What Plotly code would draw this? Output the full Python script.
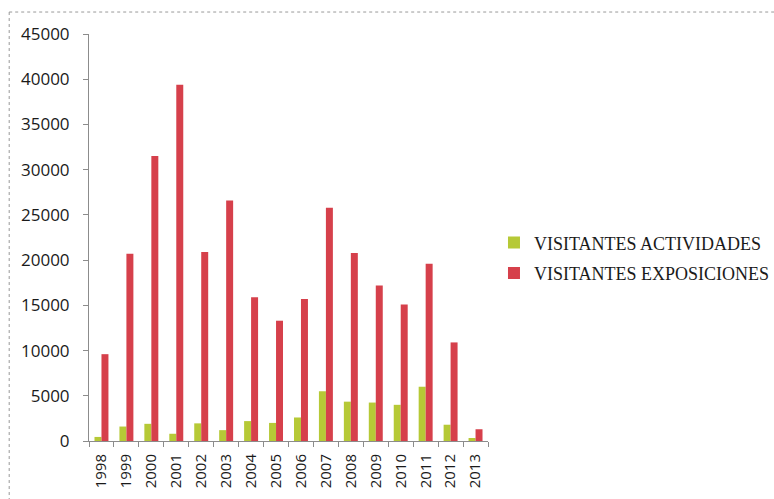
import plotly.graph_objects as go

years = ["1998", "1999", "2000", "2001", "2002", "2003", "2004", "2005",
         "2006", "2007", "2008", "2009", "2010", "2011", "2012", "2013"]
actividades = [450, 1600, 1900, 800, 1950, 1200, 2200, 2000,
               2600, 5500, 4350, 4250, 4000, 6000, 1800, 330]
exposiciones = [9600, 20700, 31500, 39400, 20900, 26600, 15900, 13300,
                15700, 25800, 20800, 17200, 15100, 19600, 10900, 1300]
y_ticks = [0, 5000, 10000, 15000, 20000, 25000, 30000, 35000, 40000, 45000]

GREEN = "#B6C936"
RED = "#D6404B"
AXIS = "#8c8c8c"

fig = go.Figure()
fig.add_trace(go.Bar(x=years, y=actividades, name="VISITANTES ACTIVIDADES",
                     legendgroup="a",
                     marker=dict(color=GREEN, line=dict(width=0))))
fig.add_trace(go.Bar(x=years, y=exposiciones, name="VISITANTES EXPOSICIONES",
                     legendgroup="b",
                     marker=dict(color=RED, line=dict(width=0))))

fig.update_layout(
    width=774, height=499,
    margin=dict(l=89, r=286, t=34, b=58, autoexpand=False),
    paper_bgcolor="white", plot_bgcolor="white",
    barmode="group", bargap=0.44, bargroupgap=0,
    showlegend=True,
    legend=dict(x=1.015, y=0.45, xanchor="left", yanchor="middle",
                font=dict(family="Liberation Serif", size=18, color="#1a1a1a"),
                itemwidth=30, traceorder="grouped", tracegroupgap=4,
                bgcolor="rgba(0,0,0,0)"),
    xaxis=dict(type="category", showgrid=False, showline=True, linecolor=AXIS,
               linewidth=1, ticks="outside", tickson="boundaries", ticklen=5,
               tickcolor=AXIS, tickangle=-90,
               tickfont=dict(family="Open Sans", size=15, color="#1a1a1a"),
               ticklabelstandoff=6),
    yaxis=dict(range=[0, 45000], tickvals=y_ticks,
               ticktext=[str(v) for v in y_ticks],
               showgrid=False, zeroline=False,
               showline=True, linecolor=AXIS, linewidth=1, ticks="outside",
               ticklen=5, tickcolor=AXIS,
               tickfont=dict(family="Open Sans", size=17, color="#1a1a1a"),
               ticklabelstandoff=10),
    shapes=[
        dict(type="line", xref="paper", yref="paper", x0=-0.2, x1=1.75,
             y0=1.054, y1=1.054, line=dict(color="#999", width=1, dash="dot")),
        dict(type="line", xref="paper", yref="paper", x0=-0.2, x1=-0.2,
             y0=1.054, y1=-0.2, line=dict(color="#999", width=1, dash="dot")),
    ],
)

fig.write_html("out.html")
